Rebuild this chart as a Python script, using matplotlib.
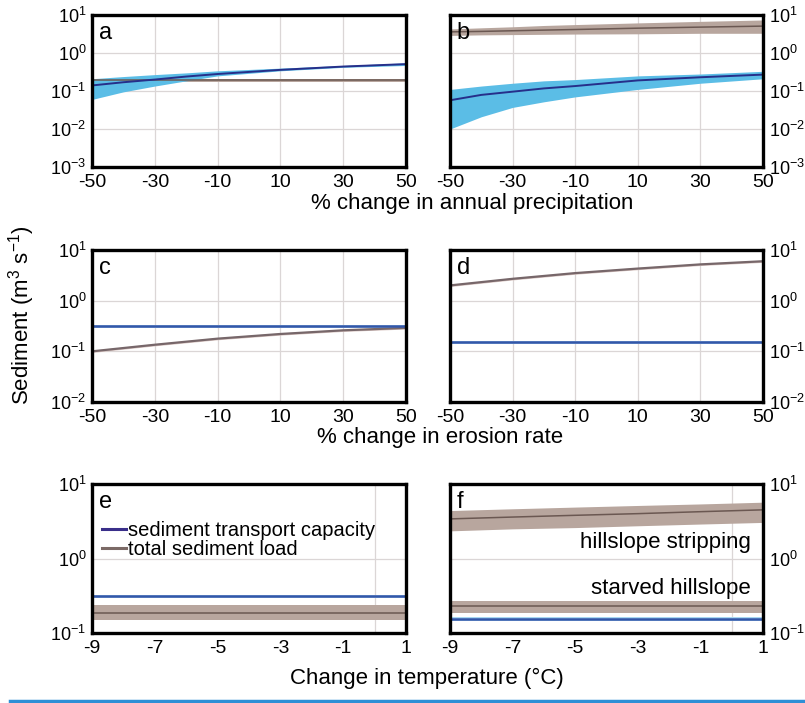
import numpy as np
import matplotlib
matplotlib.use("Agg")
import matplotlib.pyplot as plt
from matplotlib.lines import Line2D
from matplotlib.ticker import NullLocator, LogLocator

plt.rcParams['font.family'] = ['Liberation Sans', 'DejaVu Sans']
plt.rcParams['mathtext.default'] = 'regular'

#==================
#====== Data
#==================
# precipitation panels (a, b)
x_precip = [-50, -40, -30, -20, -10, 10, 30, 50]
a_cap = [0.14, 0.17, 0.20, 0.24, 0.28, 0.36, 0.44, 0.51]
a_cap_lo = [0.06, 0.095, 0.135, 0.185, 0.25, 0.34, 0.42, 0.47]
a_cap_hi = [0.21, 0.24, 0.27, 0.30, 0.34, 0.40, 0.47, 0.55]
a_load = [0.19, 0.19, 0.19, 0.19, 0.19, 0.19, 0.19, 0.19]
a_load_lo = [0.175, 0.175, 0.175, 0.175, 0.175, 0.175, 0.175, 0.175]
a_load_hi = [0.205, 0.205, 0.205, 0.205, 0.205, 0.205, 0.205, 0.205]

b_cap = [0.057, 0.079, 0.096, 0.117, 0.135, 0.19, 0.23, 0.27]
b_cap_lo = [0.010, 0.021, 0.037, 0.052, 0.07, 0.11, 0.16, 0.21]
b_cap_hi = [0.11, 0.135, 0.16, 0.185, 0.20, 0.25, 0.28, 0.33]
b_load = [3.6, 3.7, 3.85, 4.0, 4.15, 4.5, 4.8, 5.1]
b_load_lo = [2.9, 3.0, 3.05, 3.1, 3.15, 3.2, 3.3, 3.3]
b_load_hi = [4.3, 4.6, 4.9, 5.3, 5.6, 6.2, 6.8, 7.4]

# erosion panels (c, d)
x_eros = [-50, -30, -10, 10, 30, 50]
c_cap = [0.31, 0.31, 0.31, 0.31, 0.31, 0.31]
c_load = [0.10, 0.135, 0.178, 0.22, 0.26, 0.29]
d_cap = [0.15, 0.15, 0.15, 0.15, 0.15, 0.15]
d_load = [2.0, 2.7, 3.5, 4.3, 5.2, 6.0]

# temperature panels (e, f)
x_temp = [-9, -7, -5, -3, -1, 1]
e_cap = [0.31, 0.31, 0.31, 0.31, 0.31, 0.31]
e_load = [0.187, 0.187, 0.187, 0.187, 0.187, 0.187]
e_load_lo = [0.15, 0.15, 0.15, 0.15, 0.15, 0.15]
e_load_hi = [0.237, 0.237, 0.237, 0.237, 0.237, 0.237]
f_cap = [0.155, 0.155, 0.155, 0.155, 0.155, 0.155]
f_strip = [3.4, 3.6, 3.8, 4.0, 4.25, 4.5]
f_strip_lo = [2.35, 2.5, 2.6, 2.75, 2.9, 3.05]
f_strip_hi = [4.4, 4.65, 4.9, 5.15, 5.4, 5.7]
f_starv = [0.23, 0.23, 0.23, 0.23, 0.23, 0.23]
f_starv_lo = [0.184, 0.184, 0.184, 0.184, 0.184, 0.184]
f_starv_hi = [0.27, 0.27, 0.27, 0.27, 0.27, 0.27]

# colours
cCap = '#262f8a'
cCap2 = '#3456a8'
cCapBand = '#5bbde6'
cCapEdge = '#a9d8f2'
cLoad = '#6b5852'
cLoadBand = '#b8a69e'
cLoadEdge = '#d8c4c0'
cGrid = '#dbd6d6'

W, H = 805, 703
fig = plt.figure(figsize=(W/100, H/100), dpi=100)

def mkax(x0, x1, y0, y1):
    # pixel box (top origin) -> figure fraction
    return fig.add_axes([x0/W, 1-y1/H, (x1-x0)/W, (y1-y0)/H])

def style(ax, xlim, xt, ylim, right=False, grid=True):
    ax.set_yscale('log')
    ax.set_xlim(xlim)
    ax.set_ylim(ylim)
    ax.set_xticks(xt)
    ax.set_xticklabels([str(v) for v in xt])
    ax.yaxis.set_major_locator(LogLocator(base=10, numticks=10))
    ax.yaxis.set_minor_locator(NullLocator())
    ax.tick_params(axis='y', length=0, labelsize=13, pad=4)
    ax.tick_params(axis='x', length=0, labelsize=14, pad=5)
    if right:
        ax.yaxis.tick_right()
    for s in ax.spines.values():
        s.set_linewidth(2.4)
        s.set_color('k')
        s.set_zorder(10)
    if grid:
        ax.grid(True, color=cGrid, lw=0.9)
        ax.set_axisbelow(True)

def band(ax, x, lo, hi, c):
    ax.fill_between(x, lo, hi, color=c, lw=0, zorder=2)

def cap_line(ax, x, y):
    y = np.array(y)
    band(ax, x, y*0.94, y*1.06, cCapEdge)
    ax.plot(x, y, color=cCap2, lw=1.8, zorder=4)

def load_line(ax, x, y):
    y = np.array(y)
    band(ax, x, y*0.95, y*1.05, cLoadEdge)
    ax.plot(x, y, color='#77676a', lw=1.6, zorder=3)

def letter(ax, s):
    ax.text(0.022, 0.955, s, transform=ax.transAxes, ha='left', va='top', fontsize=17, zorder=6)

#====== a
axa = mkax(92, 406, 15, 167)
style(axa, (-50, 50), [-50, -30, -10, 10, 30, 50], (1e-3, 1e1))
band(axa, x_precip, a_load_lo, a_load_hi, cLoadBand)
axa.plot(x_precip, a_load, color=cLoad, lw=1.1, zorder=3)
band(axa, x_precip, a_cap_lo, a_cap_hi, cCapBand)
axa.plot(x_precip, a_cap, color=cCap, lw=1.4, zorder=4)
letter(axa, 'a')

#====== b
axb = mkax(450, 763, 15, 167)
style(axb, (-50, 50), [-50, -30, -10, 10, 30, 50], (1e-3, 1e1), right=True)
band(axb, x_precip, b_load_lo, b_load_hi, cLoadBand)
axb.plot(x_precip, b_load, color=cLoad, lw=1.1, zorder=3)
band(axb, x_precip, b_cap_lo, b_cap_hi, cCapBand)
axb.plot(x_precip, b_cap, color=cCap, lw=1.4, zorder=4)
letter(axb, 'b')

#====== c
axc = mkax(92, 406, 250, 402)
style(axc, (-50, 50), [-50, -30, -10, 10, 30, 50], (1e-2, 1e1))
load_line(axc, x_eros, c_load)
cap_line(axc, x_eros, c_cap)
letter(axc, 'c')

#====== d
axd = mkax(450, 763, 250, 402)
style(axd, (-50, 50), [-50, -30, -10, 10, 30, 50], (1e-2, 1e1), right=True)
load_line(axd, x_eros, d_load)
cap_line(axd, x_eros, d_cap)
letter(axd, 'd')

#====== e
axe = mkax(92, 406, 484, 633)
style(axe, (-9, 1), [-9, -7, -5, -3, -1, 1], (1e-1, 1e1), grid=False)
axe.axvline(0, color=cGrid, lw=0.9, zorder=1)
axe.axhline(1, color=cGrid, lw=0.9, zorder=1)
band(axe, x_temp, e_load_lo, e_load_hi, cLoadBand)
axe.plot(x_temp, e_load, color=cLoad, lw=1.1, zorder=3)
cap_line(axe, x_temp, e_cap)
letter(axe, 'e')
hnd = [Line2D([], [], color='#3a2f8a', lw=2.2), Line2D([], [], color='#7b6a66', lw=2.2)]
axe.legend(hnd, ['sediment transport capacity', 'total sediment load'], loc='upper left',
           bbox_to_anchor=(0.0, 0.82), frameon=False, fontsize=14.5, handlelength=1.2,
           handletextpad=0.1, labelspacing=0.0, borderaxespad=0.3, borderpad=0.2)

#====== f
axf = mkax(450, 763, 484, 633)
style(axf, (-9, 1), [-9, -7, -5, -3, -1, 1], (1e-1, 1e1), right=True, grid=False)
axf.axvline(0, color=cGrid, lw=0.9, zorder=1)
axf.axhline(1, color=cGrid, lw=0.9, zorder=1)
band(axf, x_temp, f_strip_lo, f_strip_hi, cLoadBand)
axf.plot(x_temp, f_strip, color=cLoad, lw=1.1, zorder=3)
band(axf, x_temp, f_starv_lo, f_starv_hi, cLoadBand)
axf.plot(x_temp, f_starv, color=cLoad, lw=1.1, zorder=3)
cap_line(axf, x_temp, f_cap)
axf.text(0.96, 0.61, 'hillslope stripping', transform=axf.transAxes, ha='right', va='center', fontsize=16)
axf.text(0.96, 0.30, 'starved hillslope', transform=axf.transAxes, ha='right', va='center', fontsize=16)
letter(axf, 'f')

#====== shared labels
fig.text(472/W, 1-204/H, '% change in annual precipitation', ha='center', va='center', fontsize=16)
fig.text(440/W, 1-437/H, '% change in erosion rate', ha='center', va='center', fontsize=16)
fig.text(427/W, 1-678/H, 'Change in temperature (°C)', ha='center', va='center', fontsize=16)
fig.text(22/W, 1-315/H, 'Sediment (m$^3$ s$^{-1}$)', ha='center', va='center', rotation=90, fontsize=16)

# blue rule at the bottom
fig.add_artist(Line2D([10/W, 1.0], [2/H, 2/H], transform=fig.transFigure, color='#2e8fd6', lw=2.5))

fig.savefig('out.png', dpi=100)
